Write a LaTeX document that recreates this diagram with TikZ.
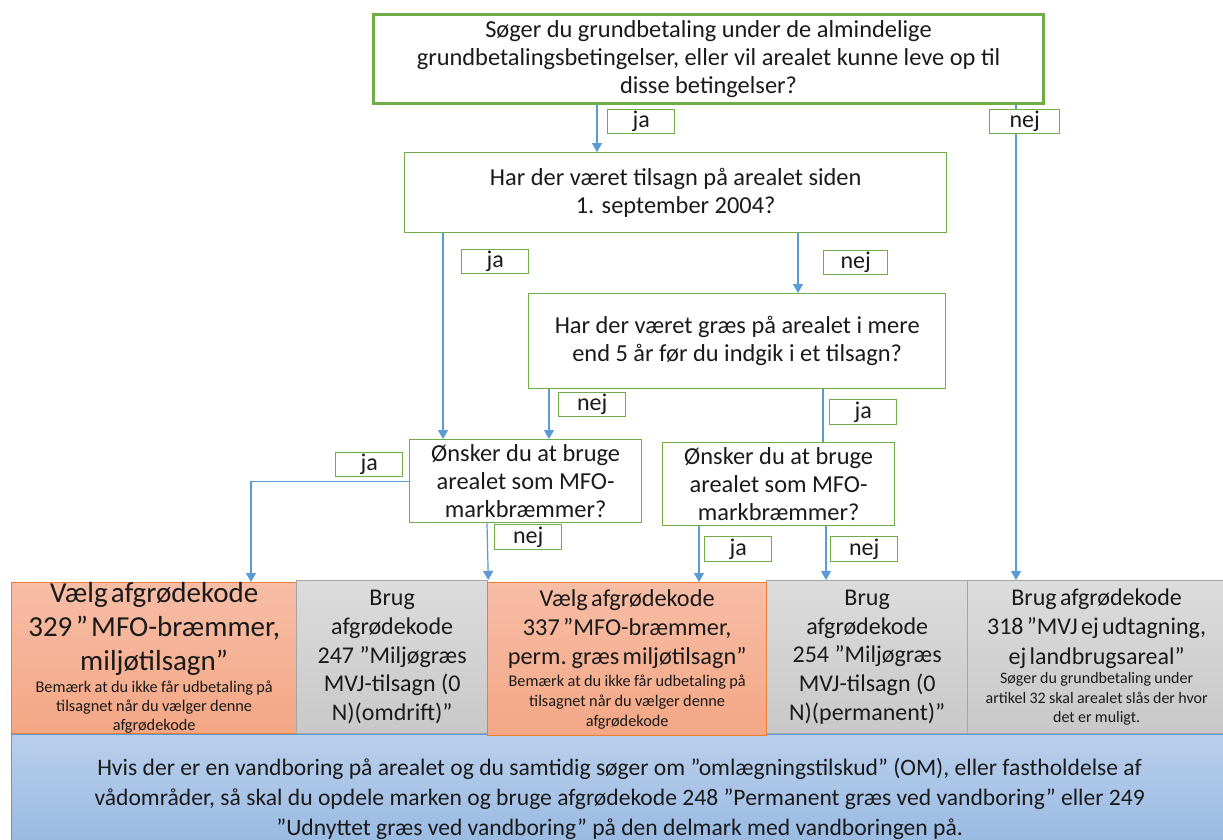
\documentclass[tikz,border=0pt]{standalone}
\usepackage{fontspec}
\setmainfont{Carlito}
\usetikzlibrary{arrows.meta}
\definecolor{qgreen}{HTML}{70AD47}
\definecolor{arrblue}{HTML}{5B9BD5}
\definecolor{orbord}{HTML}{ED7D31}
\definecolor{ortop}{HTML}{F7BDA6}
\definecolor{orbot}{HTML}{F4A785}
\definecolor{grbord}{HTML}{A5A5A5}
\definecolor{grtop}{HTML}{DCDCDC}
\definecolor{grbot}{HTML}{C8C8C8}
\definecolor{bltop}{HTML}{B9CFEB}
\definecolor{blbot}{HTML}{94B6E1}
\definecolor{txt}{HTML}{1A1A1A}
\begin{document}
\begin{tikzpicture}[x=1pt,y=-1pt,
  every node/.style={text=txt},
  qbox/.style={draw=qgreen, line width=1.3pt, fill=white, inner sep=0pt, align=center,
    font=\fontsize{24.4}{28}\selectfont, anchor=north west},
  lbl/.style={draw=qgreen, line width=1.3pt, fill=white, inner sep=0pt,
    minimum width=67pt, minimum height=24pt, font=\fontsize{24}{24}\selectfont, anchor=north west},
  arr/.style={draw=arrblue, line width=1.2pt, -{Triangle[width=10pt,length=9pt]}},
  ln/.style={draw=arrblue, line width=1.2pt},
  obox/.style={draw=orbord, line width=1.3pt, top color=ortop, bottom color=orbot,
    inner sep=0pt, align=center, anchor=north west},
  gbox/.style={draw=grbord, line width=1.3pt, top color=grtop, bottom color=grbot,
    inner sep=0pt, align=center, anchor=north west},
  big/.style={font=\fontsize{24}{28.7}\selectfont}
]
\path[use as bounding box] (0,0) rectangle (1223,839);
\clip (0,0) rectangle (1223,839);
\fill[white] (0,0) rectangle (1223,839);

% bottom blue box
\node[draw=arrblue, line width=1.3pt, top color=bltop, bottom color=blbot, inner sep=0pt,
  anchor=north west, minimum width=1216pt, minimum height=128pt, align=center,
  font=\fontsize{23.6}{30}\selectfont] (F) at (11,734)
  {Hvis der er en vandboring på arealet og du samtidig søger om ”omlægningstilskud” (OM), eller fastholdelse af\\
   vådområder, så skal du opdele marken og bruge afgrødekode 248 ”Permanent græs ved vandboring” eller 249\\
   ”Udnyttet græs ved vandboring” på den delmark med vandboringen på.};

% result boxes
\node[obox, minimum width=285pt, minimum height=151pt, text width=283pt] (A) at (11,582)
  {{\fontsize{29}{34}\selectfont Vælg afgrødekode\\329 ” MFO-bræmmer,\\miljøtilsagn”\par}\vspace{3pt}
   {\fontsize{16.3}{19}\selectfont Bemærk at du ikke får udbetaling på\\tilsagnet når du vælger denne\\afgrødekode\par}};
\node[gbox, big, minimum width=191pt, minimum height=153pt] (B) at (296,580)
  {Brug\\afgrødekode\\247 ”Miljøgræs\\MVJ-tilsagn (0\\N)(omdrift)”};
\node[gbox, big, minimum width=201pt, minimum height=153pt] (D) at (766,580)
  {Brug\\afgrødekode\\254 ”Miljøgræs\\MVJ-tilsagn (0\\N)(permanent)”};
\node[gbox, minimum width=258pt, minimum height=153pt, text width=256pt] (E) at (967,580)
  {{\fontsize{24}{29.5}\selectfont Brug afgrødekode\\318 ”MVJ ej udtagning,\\ej landbrugsareal”\par}
   {\fontsize{16}{19.5}\selectfont Søger du grundbetaling under\\artikel 32 skal arealet slås der hvor\\det er muligt.\par}};
\node[obox, minimum width=279pt, minimum height=153pt, text width=277pt] (C) at (487,582)
  {{\fontsize{24.3}{29}\selectfont Vælg afgrødekode\\337 ”MFO-bræmmer,\\perm. græs miljøtilsagn”\par}\vspace{2pt}
   {\fontsize{16.3}{20}\selectfont Bemærk at du ikke får udbetaling på\\tilsagnet når du vælger denne\\afgrødekode\par}};

% question boxes
\node[qbox, line width=3pt, minimum width=670pt, minimum height=89pt] (q1) at (372,13)
  {Søger du grundbetaling under de almindelige\\grundbetalingsbetingelser, eller vil arealet kunne leve op til\\disse betingelser?};
\node[qbox, minimum width=542pt, minimum height=80pt] (q2) at (404,152)
  {Har der været tilsagn på arealet siden\\1. september 2004?};
\node[qbox, minimum width=417pt, minimum height=95pt] (q3) at (528,293)
  {Har der været græs på arealet i mere\\end 5 år før du indgik i et tilsagn?};
\node[qbox, minimum width=232pt, minimum height=83pt] (q4) at (409,439)
  {Ønsker du at bruge\\arealet som MFO-\\markbræmmer?};
\node[qbox, minimum width=232pt, minimum height=83pt] (q5) at (662,442)
  {Ønsker du at bruge\\arealet som MFO-\\markbræmmer?};

% connectors
\draw[arr] ([xshift=225pt]q1.south west) -- ([xshift=193pt]q2.north west);
\draw[arr] ([xshift=644pt]q1.south west) -- ([xshift=49pt]E.north west);
\draw[arr] ([xshift=39pt]q2.south west) -- ([xshift=34pt]q4.north west);
\draw[arr] ([xshift=394pt]q2.south west) -- ([xshift=270pt]q3.north west);
\draw[arr] ([xshift=21pt]q3.south west) -- ([xshift=140pt]q4.north west);
\draw[ln] ([xshift=295pt]q3.south west) -- ([xshift=161pt]q5.north west);
\draw[arr] (q4.west) -| ([xshift=240pt]A.north west);
\draw[arr] ([xshift=78pt]q4.south west) -- (B.north east);
\draw[arr] ([xshift=37pt]q5.south west) -- ([xshift=212pt]C.north west);
\draw[arr] ([xshift=164pt]q5.south west) -- ([xshift=60pt]D.north west);

% labels
\node[lbl] (lj1) at (607,109) {ja};
\node[lbl, minimum width=70pt] (ln1) at (989,109) {nej};
\node[lbl] (lj2) at (461,249) {ja};
\node[lbl, minimum width=64pt] (ln2) at (823,250) {nej};
\node[lbl] (ln3) at (558,392) {nej};
\node[lbl, minimum height=25pt] (lj3) at (829,399) {ja};
\node[lbl] (lj4) at (335,452) {ja};
\node[lbl, minimum height=25pt] (ln4) at (494,524) {nej};
\node[lbl, minimum height=25pt] (lj5) at (704,536) {ja};
\node[lbl, minimum height=25pt] (ln5) at (830,536) {nej};
\end{tikzpicture}
\end{document}
